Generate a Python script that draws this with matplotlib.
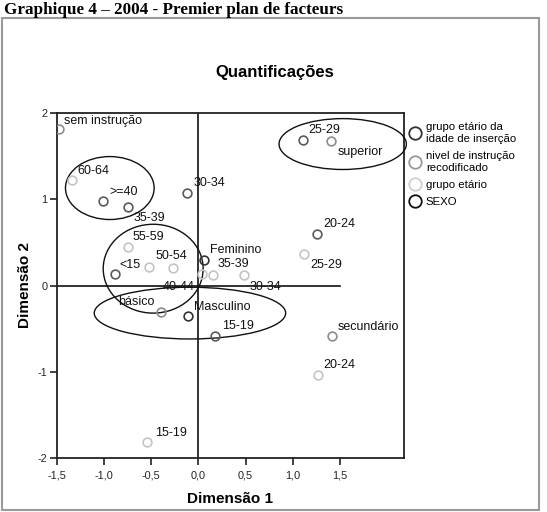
import matplotlib.pyplot as plt
from matplotlib.patches import Ellipse, Rectangle
from matplotlib.lines import Line2D

plt.rcParams['font.family'] = ['Liberation Sans', 'DejaVu Sans']

# category points (dimension 1, dimension 2)
insercao_labels = ['<15', '15-19', '20-24', '25-29', '30-34', '35-39', '>=40']
insercao_x = [-0.89, 0.18, 1.26, 1.11, -0.12, -0.75, -1.01]
insercao_y = [0.13, -0.59, 0.60, 1.69, 1.07, 0.91, 0.98]

instrucao_labels = ['sem instrução', 'básico', 'secundário', 'superior']
instrucao_x = [-1.48, -0.40, 1.42, 1.41]
instrucao_y = [1.81, -0.31, -0.59, 1.68]

etario_labels = ['15-19', '20-24', '25-29', '30-34', '35-39', '', '40-44', '50-54', '55-59', '60-64']
etario_x = [-0.55, 1.27, 1.12, 0.48, 0.15, 0.04, -0.27, -0.52, -0.75, -1.34]
etario_y = [-1.82, -1.04, 0.37, 0.12, 0.12, 0.13, 0.20, 0.21, 0.45, 1.22]

sexo_labels = ['Feminino', 'Masculino']
sexo_x = [0.06, -0.11]
sexo_y = [0.30, -0.35]

legend_labels = ['grupo etário da\nidade de inserção', 'nivel de instrução\nrecodificado',
                 'grupo etário', 'SEXO']

x_ticks = [-1.5, -1.0, -0.5, 0.0, 0.5, 1.0, 1.5]
y_ticks = [-2, -1, 0, 1, 2]

# label offsets in pixels (dx, dy)
insercao_off = [(5, 9), (7, 10), (6, 10), (5, 10), (6, 10), (6, -11), (6, 9)]
instrucao_off = [(5, 8), (-6, 10), (5, 9), (6, -11)]
etario_off = [(8, 9), (5, 10), (6, -11), (6, -12), (5, 11), (0, 0), (-10, -19), (6, 11), (5, 10), (5, 9)]
sexo_off = [(6, 10), (6, 9)]

fig = plt.figure(figsize=(5.47, 5.12), dpi=100)
ax = fig.add_axes([57 / 547, 1 - 458 / 512, 347 / 547, 345 / 512])

groups = [
    (insercao_x, insercao_y, insercao_labels, insercao_off, '#5a5a5a'),
    (instrucao_x, instrucao_y, instrucao_labels, instrucao_off, '#8c8c8c'),
    (etario_x, etario_y, etario_labels, etario_off, '#c4c4c4'),
    (sexo_x, sexo_y, sexo_labels, sexo_off, '#333333'),
]

for xs, ys, labels, offs, col in groups:
    ax.plot(xs, ys, 'o', ms=6.3, mfc='none', mec=col, mew=1.2, zorder=4)
    for x, y, lab, (dx, dy) in zip(xs, ys, labels, offs):
        if not lab:
            continue
        ax.annotate(lab, (x, y), xytext=(dx, dy), textcoords='offset pixels',
                    ha='right' if lab == 'básico' else 'left', va='center',
                    fontsize=9, color='#111111', zorder=5)

# ellipses drawn by hand on the original
for cx, cy, w, h in [(-0.94, 1.13, 0.94, 0.73), (-0.48, 0.195, 1.06, 1.03),
                     (-0.09, -0.32, 2.03, 0.60), (1.53, 1.64, 1.35, 0.59)]:
    ax.add_patch(Ellipse((cx, cy), w, h, fill=False, ec='#111111', lw=1.0, clip_on=False, zorder=3))

ax.axvline(0, color='#111111', lw=1.2, zorder=2)
ax.plot([-1.5, 1.5], [0, 0], color='#111111', lw=1.2, zorder=2)

ax.set_xlim(-1.5, 2.18)
ax.set_ylim(-2, 2)
ax.set_xticks(x_ticks)
ax.set_xticklabels([f'{t:.1f}'.replace('.', ',') for t in x_ticks])
ax.set_yticks(y_ticks)
ax.set_yticklabels([str(t) for t in y_ticks])
ax.tick_params(direction='out', length=5, width=1.2, labelsize=7.8, colors='#222222', pad=2)
ax.tick_params(axis='x', pad=4)
for s in ax.spines.values():
    s.set_color('#222222')
    s.set_linewidth(1.3)

ax.set_xlabel('Dimensão 1', fontsize=11, fontweight='bold', labelpad=8)
ax.set_ylabel('Dimensão 2', fontsize=11, fontweight='bold', labelpad=4)

handles = [Line2D([], [], ls='none', marker='o', ms=9, mfc='none', mec=c, mew=1.3)
           for c in ['#333333', '#9a9a9a', '#d0d0d0', '#111111']]
fig.legend(handles, legend_labels, loc='upper left', bbox_to_anchor=(406 / 547, 1 - 119 / 512),
           frameon=False, fontsize=8.2, handletextpad=0.45, labelspacing=0.62,
           handlelength=1.0, borderaxespad=0, borderpad=0.3)

fig.text(275 / 547, 1 - 73 / 512, 'Quantificações', ha='center', va='center',
         fontsize=12, fontweight='bold')
fig.text(4 / 547, 1 - 10 / 512, 'Graphique 4 – 2004 - Premier plan de facteurs', ha='left',
         va='center', fontsize=12.3, fontweight='bold', family=['Liberation Serif'])
fig.add_artist(Rectangle((2 / 547, 2 / 512), 537 / 547, 492 / 512, transform=fig.transFigure,
                         fill=False, ec='#9a9a9a', lw=1.5))

fig.savefig('out.png', dpi=100)
